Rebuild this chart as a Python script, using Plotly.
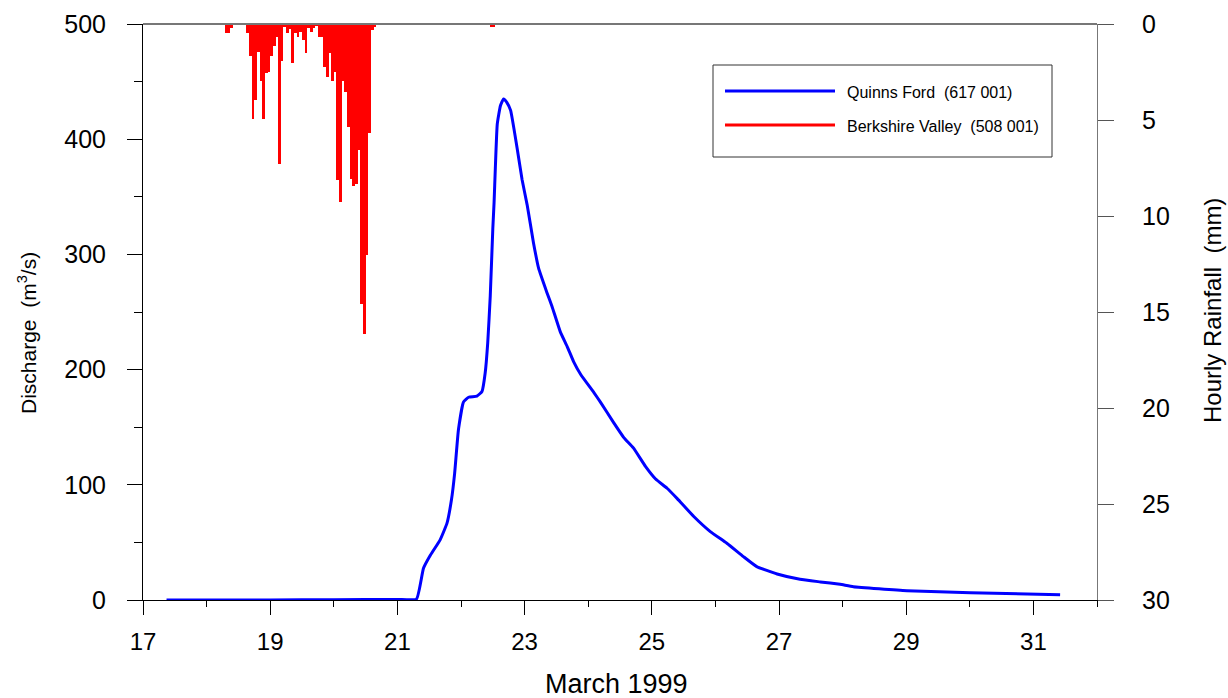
import plotly.graph_objects as go

# ---------------- data ----------------
# Discharge at Quinns Ford (617 001), day of March 1999 (decimal) vs m3/s
flow_day = [17.37, 18.0, 19.0, 20.0, 21.0, 21.30, 21.41, 21.52, 21.67, 21.78, 21.85,
            21.90, 21.96, 22.04, 22.12, 22.25, 22.33, 22.38, 22.42, 22.46, 22.50,
            22.52, 22.54, 22.57, 22.62, 22.67, 22.72, 22.78, 22.88, 22.96, 23.04,
            23.14, 23.22, 23.35, 23.43, 23.56, 23.67, 23.77, 23.88, 24.09, 24.19,
            24.40, 24.56, 24.71, 24.90, 25.06, 25.24, 25.40, 25.66, 25.92, 26.18,
            26.44, 26.65, 26.97, 27.33, 27.65, 27.96, 28.17, 29.01, 30.01, 31.42]
flow_q = [0.0, 0.0, 0.1, 0.3, 0.5, 0.8, 27.5, 39, 52, 66.7, 87,
          110, 148, 172, 176, 177, 181, 197, 223, 264, 322,
          345, 375, 413, 429, 435, 432, 425, 393, 365, 343,
          310, 288, 267, 255, 233, 220, 207, 196, 180, 172,
          154, 141, 132, 116, 105, 97, 88, 72.5, 59.4, 49.3,
          37.7, 29, 22.6, 18, 15.7, 13.6, 11.6, 8.1, 6.4, 4.6]

# Hourly rainfall at Berkshire Valley (508 001): hour number counted from 18 March 00:00, mm
rain_start_day = 18.0
rain_hour = [7, 8, 9,
             15, 16, 17, 18, 19, 20, 21, 22, 23, 24, 25, 26, 27, 28, 29, 30, 31, 32, 33,
             34, 35, 36, 37, 38, 39, 40, 41, 42, 43, 44, 45, 46, 47, 48, 49, 50, 51,
             52, 53, 54, 55, 56, 57, 58, 59, 60, 61, 62, 63,
             107, 108]
rain_mm = [0.45, 0.45, 0.23,
           0.45, 1.65, 4.96, 3.97, 1.48, 2.96, 4.96, 2.57, 2.52, 1.65, 1.15, 0.66, 7.27, 1.93, 0.14, 0.45, 0.28, 2.05, 0.49,
           0.66, 0.4, 0.83, 1.53, 0.23, 0.4, 0.23, 0.1, 0.66, 0.66, 2.23, 2.75, 1.5, 2.96, 2.49, 8.14, 9.27, 2.96,
           3.53, 5.36, 8.05, 8.43, 8.31, 6.57, 14.57, 16.14, 12.05, 5.67, 0.31, 0.14,
           0.15, 0.15]

x_tick_vals = [17, 19, 21, 23, 25, 27, 29, 31]
y_tick_vals = [0, 100, 200, 300, 400, 500]
y2_tick_vals = [0, 5, 10, 15, 20, 25, 30]

series_names = ["Quinns Ford  (617 001)", "Berkshire Valley  (508 001)"]

# ---------------- figure ----------------
FONT = "Liberation Sans, Arial, sans-serif"
TICK = 24
YTICK = 25

rain_x = [rain_start_day + (h + 0.5) / 24 for h in rain_hour]

fig = go.Figure()
fig.add_trace(go.Bar(x=rain_x, y=rain_mm, width=1 / 24, yaxis="y2",
                     marker=dict(color="#FF0000", line=dict(width=0)),
                     showlegend=False, name=series_names[1]))
fig.add_trace(go.Scatter(x=flow_day, y=flow_q, mode="lines",
                         line=dict(color="#0000FF", width=3, shape="spline", smoothing=0.4),
                         showlegend=False, name=series_names[0]))

# plot area on screen: x 143..1097, y 24..600 (page body margin removed below)
fig.update_layout(
    width=1228, height=698,
    margin=dict(l=143, r=131, t=24, b=98, autoexpand=False),
    paper_bgcolor="white", plot_bgcolor="white",
    bargap=0,
    font=dict(family=FONT, size=TICK, color="black"),
    xaxis=dict(range=[17, 32], tickvals=x_tick_vals, ticks="outside", ticklen=14,
               tickcolor="black", tickwidth=1, showline=True, linecolor="black",
               linewidth=1, showgrid=False, zeroline=False, automargin=False,
               tickfont=dict(family=FONT, size=TICK), ticklabelstandoff=6,
               minor=dict(dtick=1, tick0=17, ticks="outside", ticklen=6,
                          tickcolor="black", showgrid=False)),
    yaxis=dict(range=[0, 500], tickvals=y_tick_vals, ticks="outside", ticklen=15,
               tickcolor="black", showline=True, linecolor="black", linewidth=1,
               showgrid=False, zeroline=False, automargin=False,
               tickfont=dict(family=FONT, size=YTICK), ticklabelstandoff=16,
               minor=dict(dtick=50, tick0=0, ticks="outside", ticklen=8,
                          tickcolor="black", showgrid=False)),
    yaxis2=dict(range=[30, 0], tickvals=y2_tick_vals, ticks="outside", ticklen=16,
                tickcolor="#555555", overlaying="y", side="right", showline=True,
                linecolor="#777777", linewidth=1, showgrid=False, zeroline=False,
                automargin=False,
                tickfont=dict(family=FONT, size=YTICK), ticklabelstandoff=23),
)

# top border
fig.add_shape(type="line", xref="paper", yref="paper", x0=0, x1=1, y0=1, y1=1,
              line=dict(color="#777777", width=2))


def px(xs):
    return (xs - 143) / 954


def py(ys):
    return (600 - ys) / 576


# axis titles
fig.add_annotation(xref="paper", yref="paper", x=px(27), y=py(333),
                   text="Discharge  (m<sup>3</sup>/s)", textangle=-90, showarrow=False,
                   xanchor="center", yanchor="middle", font=dict(family=FONT, size=21))
fig.add_annotation(xref="paper", yref="paper", x=px(1212), y=py(311),
                   text="Hourly Rainfall  (mm)", textangle=-90, showarrow=False,
                   xanchor="center", yanchor="middle", font=dict(family=FONT, size=24))
fig.add_annotation(xref="paper", yref="paper", x=px(616), y=py(684),
                   text="March 1999", showarrow=False,
                   xanchor="center", yanchor="middle", font=dict(family=FONT, size=27))

# legend box drawn manually
fig.add_shape(type="rect", xref="paper", yref="paper",
              x0=px(713), x1=px(1052), y0=py(157), y1=py(65),
              line=dict(color="#333333", width=1), fillcolor="white")
for name, col, ly in [(series_names[0], "#0000FF", 91), (series_names[1], "#FF0000", 125)]:
    fig.add_shape(type="line", xref="paper", yref="paper",
                  x0=px(725), x1=px(835), y0=py(ly), y1=py(ly),
                  line=dict(color=col, width=3))
    fig.add_annotation(xref="paper", yref="paper", x=px(845), y=py(ly + 2),
                       text=name, showarrow=False, xanchor="left", yanchor="middle",
                       font=dict(family=FONT, size=16))

fig.write_html("out.html",
               config={"displayModeBar": False},
               post_script="document.body.style.margin='0';"
                           "document.body.style.overflow='hidden';")
